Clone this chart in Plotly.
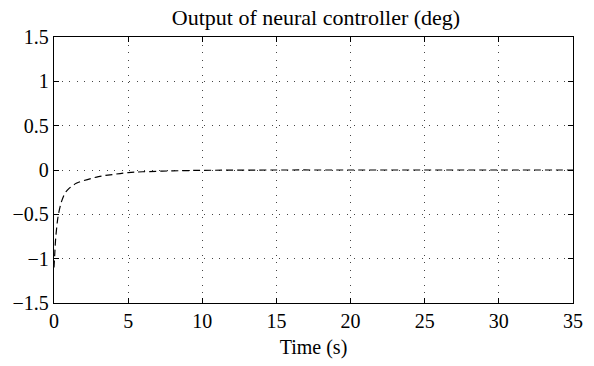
import plotly.graph_objects as go

time_s = [0, 0.05, 0.1, 0.2, 0.3, 0.5, 0.75, 1, 1.5, 2, 3, 4, 5, 6, 8, 10, 15, 20, 25, 30, 35]
output_deg = [-1.1, -0.95, -0.8, -0.62, -0.5, -0.36, -0.26, -0.21, -0.15, -0.12, -0.075, -0.05, -0.03, -0.02, -0.01, -0.004, 0, 0, 0, 0, 0]
x_ticks = [0, 5, 10, 15, 20, 25, 30, 35]
y_ticks = [-1.5, -1, -0.5, 0, 0.5, 1, 1.5]
y_labels = ["\u22121.5", "\u22121", "\u22120.5", "0", "0.5", "1", "1.5"]

fam = "Liberation Serif, DejaVu Serif, serif"
font = dict(family=fam, size=20, color="black")

fig = go.Figure()
fig.add_trace(go.Scatter(x=time_s, y=output_deg, mode="lines",
                         line=dict(color="black", width=1.2, dash="7px,4px"),
                         line_shape="spline", showlegend=False))

axis_common = dict(showline=True, linecolor="black", linewidth=1.3, mirror="allticks",
                   ticks="inside", ticklen=5, tickcolor="black", tickwidth=1,
                   showgrid=True, gridcolor="#444444", gridwidth=1.2, griddash="1px,6.5px",
                   zeroline=False, tickfont=font)

fig.update_layout(
    width=594, height=366,
    margin=dict(l=54, r=11, t=37, b=63),
    paper_bgcolor="white", plot_bgcolor="white",
    title=dict(text="Output of neural controller (deg)", x=0.532, xanchor="center",
               y=0.953, yanchor="middle", font=dict(family=fam, size=22, color="black")),
    xaxis=dict(range=[0, 35], tickvals=x_ticks, ticktext=[str(v) for v in x_ticks],
               title=dict(text="Time (s)", font=font, standoff=8), **axis_common),
    yaxis=dict(range=[-1.5, 1.5], tickvals=y_ticks, ticktext=y_labels, **axis_common),
)

fig.write_html("out.html")
